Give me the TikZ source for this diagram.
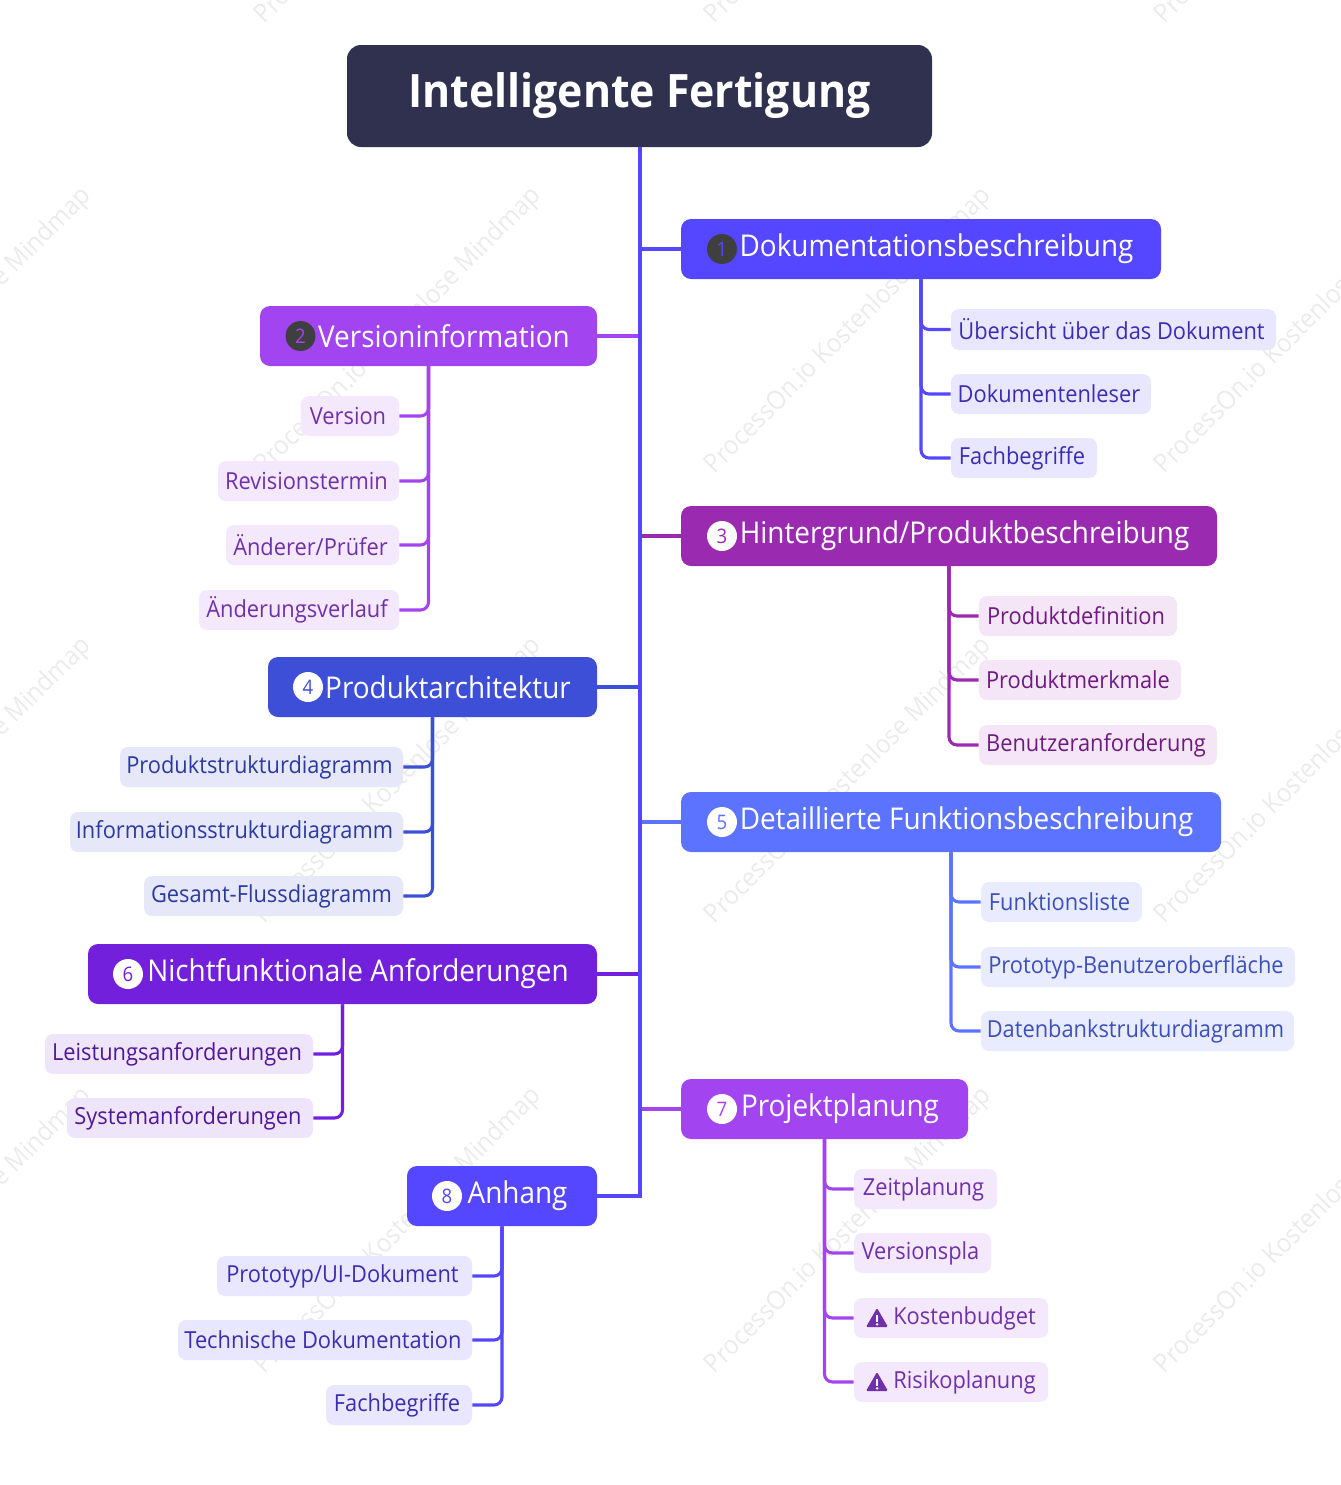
\documentclass[tikz,border=0pt]{standalone}
\usepackage{fontspec}
\setmainfont{Open Sans}
\newfontfamily\kidfont[FakeStretch=0.93]{Open Sans}
\newfontfamily\parfont[FakeStretch=0.93]{Open Sans}
\newfontfamily\rootfont[FakeStretch=0.93]{Open Sans}
\newfontfamily\wmfont[FakeStretch=0.93]{Open Sans}
\definecolor{cRoot}{HTML}{30304F}
\definecolor{cA}{HTML}{5546FF}\definecolor{kA}{HTML}{E9E7FF}\definecolor{tA}{HTML}{3A2DB0}
\definecolor{cB}{HTML}{A245F0}\definecolor{kB}{HTML}{F4E8FD}\definecolor{tB}{HTML}{7030A8}
\definecolor{cC}{HTML}{9A2BB0}\definecolor{kC}{HTML}{F5E6F7}\definecolor{tC}{HTML}{6E1A80}
\definecolor{cD}{HTML}{3D4FD6}\definecolor{kD}{HTML}{E6E8FA}\definecolor{tD}{HTML}{2B3A9E}
\definecolor{cE}{HTML}{5B73FF}\definecolor{kE}{HTML}{E9ECFF}\definecolor{tE}{HTML}{3D4FB8}
\definecolor{cF}{HTML}{7320DC}\definecolor{kF}{HTML}{EFE5FB}\definecolor{tF}{HTML}{511798}
\definecolor{cDark}{HTML}{3F3F3F}
\definecolor{cWm}{HTML}{EBEBEB}
\tikzset{
  rootbox/.style={fill=cRoot,text=white,rounded corners=10.5pt,inner sep=0pt,font=\rootfont\fontsize{34.5}{40}\selectfont\bfseries},
  parbox/.style={fill=#1,text=white,rounded corners=7.5pt,inner sep=0pt,font=\parfont\fontsize{22.5}{27}\selectfont},
  kidbox/.style n args={2}{fill=#1,text=#2,rounded corners=6pt,inner sep=0pt,font=\kidfont\fontsize{17.6}{21}\selectfont},
  badge/.style n args={2}{circle,fill=#1,text=#2,minimum size=22.5pt,inner sep=0pt,font=\kidfont\fontsize{15}{18}\selectfont},
  trunk/.style={draw=cA,line width=3pt},
  branch/.style={draw=#1,line width=3pt},
  twig/.style={draw=#1,line width=2.3pt,rounded corners=6pt},
  wm/.style={text=cWm,rotate=45,anchor=west,inner sep=0pt,font=\wmfont\fontsize{19.5}{24}\selectfont},
}
% style-with-args, name, x0, y0, x1, y1, text
\newcommand\mmbox[7]{%
  \pgfmathsetmacro\mw{#5-#3}\pgfmathsetmacro\mh{#6-#4}%
  \pgfmathsetmacro\mx{(#3+#5)/2}\pgfmathsetmacro\my{(#4+#6)/2}%
  \node[#1,minimum width=\mw*0.75pt,minimum height=\mh*0.75pt] (#2) at (\mx,\my) {#7};}
\newcommand\kl{\kern-3pt}
\newcommand\pl{\kern23.25pt}
\newcommand\il{\kern20.25pt}
\begin{document}
\begin{tikzpicture}[x=0.75pt,y=-0.75pt]
\clip (0,0) rectangle (1341,1485);
\useasboundingbox (0,0) rectangle (1341,1485);
% watermarks
\foreach \wx in {-190,260,710,1160}{\foreach \wy in {20,470,920,1370}{
  \node[wm] at (\wx,\wy) {ProcessOn.io Kostenlose Mindmap};}}
% root
\mmbox{rootbox}{root}{347}{45}{932}{147}{Intelligente Fertigung}
% level one
\mmbox{parbox=cA}{n1}{681}{219}{1161}{279}{\pl Dokumentationsbeschreibung}
\mmbox{parbox=cB}{n2}{260}{306}{597}{366}{\pl Versioninformation}
\mmbox{parbox=cC}{n3}{681}{506}{1217}{566}{\pl Hintergrund/Produktbeschreibung}
\mmbox{parbox=cD}{n4}{268}{657}{597}{717}{\pl Produktarchitektur}
\mmbox{parbox=cE}{n5}{681}{792}{1221}{852}{\pl Detaillierte Funktionsbeschreibung}
\mmbox{parbox=cF}{n6}{88}{944}{597}{1004}{\pl Nichtfunktionale Anforderungen}
\mmbox{parbox=cB}{n7}{681}{1079}{968}{1139}{\pl Projektplanung}
\mmbox{parbox=cA}{n8}{407}{1166}{597}{1226}{\pl Anhang}
% badges
\node[badge={cDark}{cA}] (b1) at (722,249) {1};
\node[badge={cDark}{cB}] (b2) at (300.5,336) {2};
\node[badge={white}{cC}] (b3) at (722,536) {3};
\node[badge={white}{cD}] (b4) at (308,687) {4};
\node[badge={white}{cE}] (b5) at (722,822) {5};
\node[badge={white}{cF}] (b6) at (128,974) {6};
\node[badge={white}{cB}] (b7) at (722,1109) {7};
\node[badge={white}{cA}] (b8) at (447,1196) {8};
% children
\mmbox{kidbox={kA}{tA}}{c11}{951}{309}{1276}{350}{\kl Übersicht über das Dokument}
\mmbox{kidbox={kA}{tA}}{c12}{951}{374}{1151}{414}{\kl Dokumentenleser}
\mmbox{kidbox={kA}{tA}}{c13}{951}{438}{1097}{478}{\kl Fachbegriffe}
\mmbox{kidbox={kB}{tB}}{c21}{301}{396}{399}{436}{\kl Version}
\mmbox{kidbox={kB}{tB}}{c22}{218}{461}{399}{501}{\kl Revisionstermin}
\mmbox{kidbox={kB}{tB}}{c23}{226}{525}{399}{565}{\kl Änderer/Prüfer}
\mmbox{kidbox={kB}{tB}}{c24}{199}{590}{399}{630}{\kl Änderungsverlauf}
\mmbox{kidbox={kC}{tC}}{c31}{979}{596}{1177}{636}{\kl Produktdefinition}
\mmbox{kidbox={kC}{tC}}{c32}{979}{660}{1181}{700}{\kl Produktmerkmale}
\mmbox{kidbox={kC}{tC}}{c33}{979}{725}{1217}{765}{\kl Benutzeranforderung}
\mmbox{kidbox={kD}{tD}}{c41}{120}{747}{403}{787}{\kl Produktstrukturdiagramm}
\mmbox{kidbox={kD}{tD}}{c42}{70}{812}{403}{852}{\kl Informationsstrukturdiagramm}
\mmbox{kidbox={kD}{tD}}{c43}{144}{876}{403}{916}{\kl Gesamt-Flussdiagramm}
\mmbox{kidbox={kE}{tE}}{c51}{981}{882}{1142}{922}{\kl Funktionsliste}
\mmbox{kidbox={kE}{tE}}{c52}{981}{947}{1295}{987}{\kl Prototyp-Benutzeroberfläche}
\mmbox{kidbox={kE}{tE}}{c53}{981}{1011}{1294}{1051}{\kl Datenbankstrukturdiagramm}
\mmbox{kidbox={kF}{tF}}{c61}{45}{1034}{313}{1074}{\kl Leistungsanforderungen}
\mmbox{kidbox={kF}{tF}}{c62}{67}{1098}{313}{1138}{\kl Systemanforderungen}
\mmbox{kidbox={kB}{tB}}{c71}{854}{1169}{997}{1209}{\kl Zeitplanung}
\mmbox{kidbox={kB}{tB}}{c72}{854}{1233}{991}{1273}{\kl Versionspla}
\mmbox{kidbox={kB}{tB}}{c73}{854}{1298}{1048}{1338}{\il Kostenbudget}
\mmbox{kidbox={kB}{tB}}{c74}{854}{1362}{1048}{1402}{\il Risikoplanung}
\mmbox{kidbox={kA}{tA}}{c81}{217}{1256}{472}{1296}{\kl Prototyp/UI-Dokument}
\mmbox{kidbox={kA}{tA}}{c82}{178}{1320}{472}{1360}{\kl Technische Dokumentation}
\mmbox{kidbox={kA}{tA}}{c83}{326}{1385}{472}{1425}{\kl Fachbegriffe}
% warning icons
\foreach \iy in {1318,1382}{
  \fill[tB,rounded corners=1pt] (877,\iy-10) -- (888,\iy+9) -- (866,\iy+9) -- cycle;
  \fill[white] (876,\iy-3) rectangle (878.2,\iy+4);
  \fill[white] (877.1,\iy+6.3) circle (1.4);
}
% branches from trunk
\foreach \n/\c in {n1/cA,n3/cC,n5/cE,n7/cB}{\draw[branch=\c] (\n.west) -- (\n.west -| root.south);}
\foreach \n/\c in {n2/cB,n4/cD,n6/cF}{\draw[branch=\c] (\n.east) -- (\n.east -| root.south);}
\draw[trunk] (root.south) |- (n8.east);
% twigs
\foreach \k in {c11,c12,c13}{\draw[twig=cA] (n1.south) |- (\k.west);}
\foreach \k in {c21,c22,c23,c24}{\draw[twig=cB] (n2.south) |- (\k.east);}
\foreach \k in {c31,c32,c33}{\draw[twig=cC] (n3.south) |- (\k.west);}
\foreach \k in {c41,c42,c43}{\draw[twig=cD] (n4.south) |- (\k.east);}
\foreach \k in {c51,c52,c53}{\draw[twig=cE] (n5.south) |- (\k.west);}
\foreach \k in {c61,c62}{\draw[twig=cF] (n6.south) |- (\k.east);}
\foreach \k in {c71,c72,c73,c74}{\draw[twig=cB] (n7.south) |- (\k.west);}
\foreach \k in {c81,c82,c83}{\draw[twig=cA] (n8.south) |- (\k.east);}
\end{tikzpicture}
\end{document}
